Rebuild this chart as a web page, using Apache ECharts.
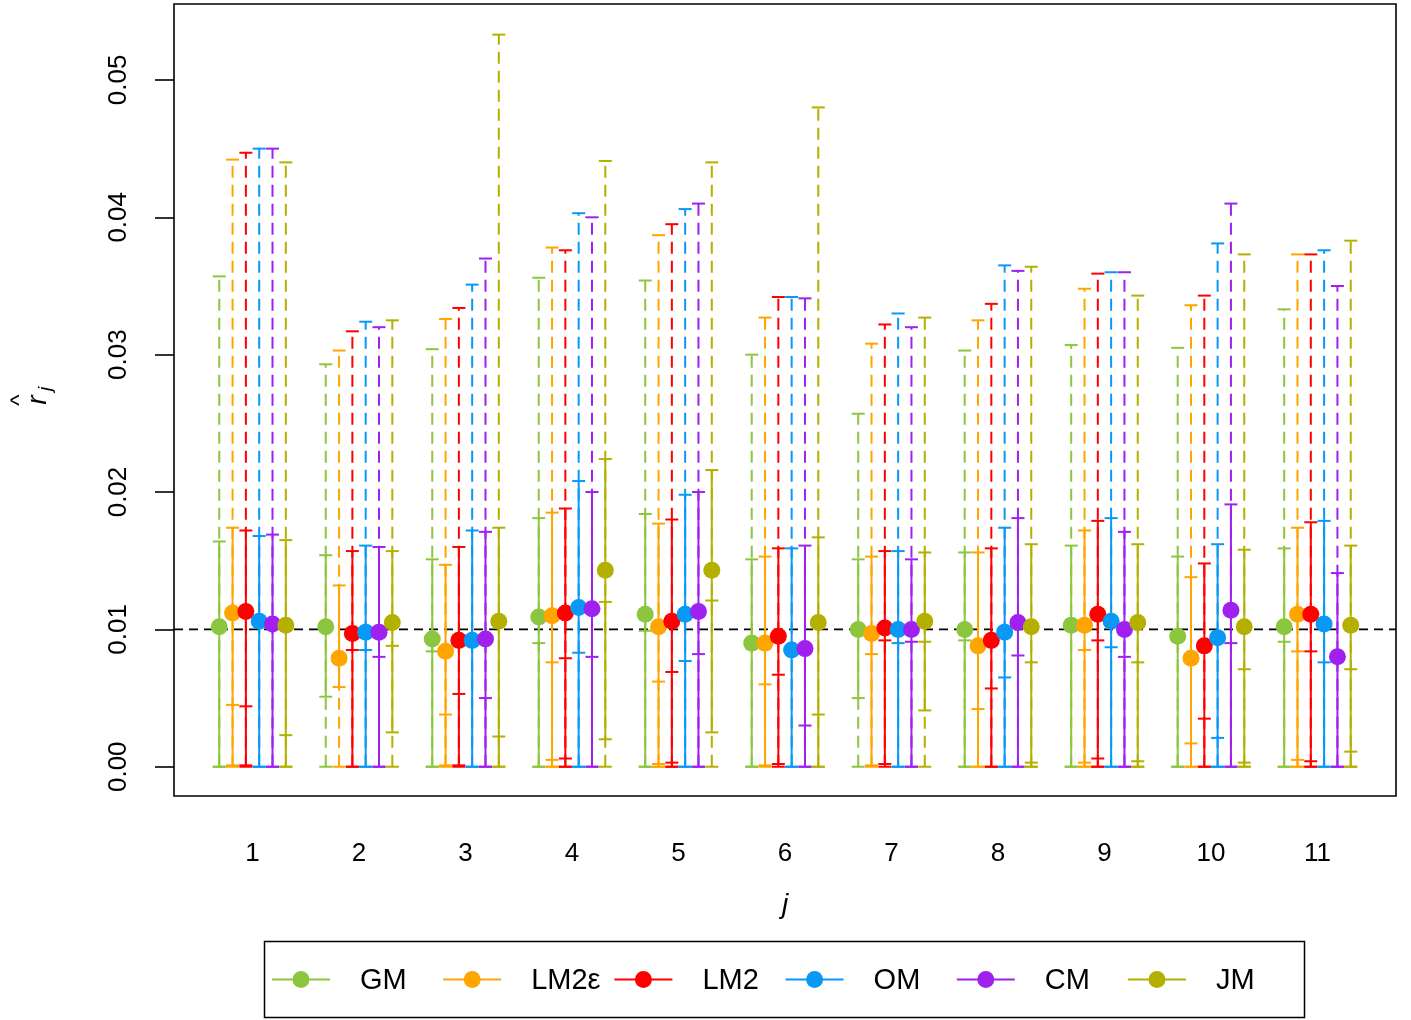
<!DOCTYPE html>
<html><head><meta charset="utf-8">
<script src="https://cdn.jsdelivr.net/npm/echarts@6/dist/echarts.min.js"></script>
<style>html,body{margin:0;padding:0;background:#fff}#c{width:1411px;height:1020px}</style>
</head><body><div id="c"></div>
<script>
// ---------- DATA ----------
const categories = [1,2,3,4,5,6,7,8,9,10,11];
const methods = ['GM','LM2ε','LM2','OM','CM','JM'];
const colors = ['#8CC63F','#FFA500','#FF0000','#0A98F5','#A020F0','#B4B000'];
const offsets = [-0.3125,-0.1875,-0.0625,0.0625,0.1875,0.3125];
const refValue = 0.01;
const yTicks = [0,0.01,0.02,0.03,0.04,0.05];

// point estimates
const estGM  = [0.0102,0.0102,0.0093,0.0109,0.0111,0.0090,0.0100,0.0100,0.0103,0.0095,0.0102];
const estLM2e= [0.0112,0.0079,0.0084,0.0110,0.0102,0.0090,0.0097,0.0088,0.0103,0.0079,0.0111];
const estLM2 = [0.0113,0.0097,0.0092,0.0112,0.0106,0.0095,0.0101,0.0092,0.0111,0.0088,0.0111];
const estOM  = [0.0106,0.0098,0.0092,0.0116,0.0111,0.0085,0.0100,0.0098,0.0106,0.0094,0.0104];
const estCM  = [0.0104,0.0098,0.0093,0.0115,0.0113,0.0086,0.0100,0.0105,0.0100,0.0114,0.0080];
const estJM  = [0.0103,0.0105,0.0106,0.0143,0.0143,0.0105,0.0106,0.0102,0.0105,0.0102,0.0103];

// solid interval lower ends
const solidLoGM  = [0,0.0051,0,0,0,0,0.0050,0,0,0,0];
const solidLoLM2e= [0.0001,0.0058,0.0001,0,0,0.0001,0.0001,0,0,0,0];
const solidLoLM2 = [0.0001,0,0.0001,0,0,0.0002,0.0002,0,0,0,0];
const solidLoOM  = [0,0,0,0,0,0,0,0,0,0,0];
const solidLoCM  = [0,0,0,0,0,0,0,0,0,0,0];
const solidLoJM  = [0,0.0025,0,0.0020,0.0025,0,0.0041,0,0,0,0];

// solid interval upper ends
const solidHiGM  = [0.0164,0.0154,0.0151,0.0181,0.0184,0.0151,0.0151,0.0156,0.0161,0.0153,0.0159];
const solidHiLM2e= [0.0174,0.0132,0.0147,0.0185,0.0177,0.0153,0.0153,0.0156,0.0172,0.0138,0.0174];
const solidHiLM2 = [0.0172,0.0157,0.0160,0.0188,0.0180,0.0159,0.0157,0.0159,0.0179,0.0148,0.0178];
const solidHiOM  = [0.0168,0.0161,0.0172,0.0208,0.0198,0.0159,0.0157,0.0174,0.0181,0.0162,0.0179];
const solidHiCM  = [0.0169,0.0160,0.0171,0.0200,0.0200,0.0161,0.0151,0.0181,0.0171,0.0191,0.0141];
const solidHiJM  = [0.0165,0.0157,0.0174,0.0224,0.0216,0.0167,0.0156,0.0162,0.0162,0.0158,0.0161];

// dashed interval upper ends (dashed runs from 0)
const dashHiGM  = [0.0357,0.0293,0.0304,0.0356,0.0354,0.0300,0.0257,0.0303,0.0307,0.0305,0.0333];
const dashHiLM2e= [0.0442,0.0303,0.0326,0.0378,0.0387,0.0327,0.0308,0.0325,0.0348,0.0336,0.0373];
const dashHiLM2 = [0.0447,0.0317,0.0334,0.0376,0.0395,0.0342,0.0322,0.0337,0.0359,0.0343,0.0373];
const dashHiOM  = [0.0450,0.0324,0.0351,0.0403,0.0406,0.0342,0.0330,0.0365,0.0360,0.0381,0.0376];
const dashHiCM  = [0.0450,0.0320,0.0370,0.0400,0.0410,0.0341,0.0320,0.0361,0.0360,0.0410,0.0350];
const dashHiJM  = [0.0440,0.0325,0.0533,0.0441,0.0440,0.0480,0.0327,0.0364,0.0343,0.0373,0.0383];

// extra lower tick marks (null = none)
const tickAGM  = [null,null,0.0084,0.0090,0.0099,0.0087,null,0.0092,null,null,0.0091];
const tickALM2e= [0.0045,null,0.0038,0.0076,0.0062,0.0060,0.0082,0.0042,0.0085,0.0017,0.0084];
const tickALM2 = [0.0044,0.0085,0.0053,0.0079,0.0069,0.0067,0.0092,0.0057,0.0092,0.0035,0.0084];
const tickAOM  = [null,0.0085,null,0.0083,0.0077,null,0.0090,0.0065,0.0087,0.0021,0.0076];
const tickACM  = [null,0.0080,0.0050,0.0080,0.0082,0.0030,0.0091,0.0081,0.0080,0.0090,null];
const tickAJM  = [0.0023,0.0088,0.0022,0.0120,0.0121,0.0038,0.0091,0.0076,0.0076,0.0071,0.0071];
const tickBGM  = [null,null,null,null,null,null,null,null,null,null,null];
const tickBLM2e= [null,null,null,0.0005,0.0002,null,null,null,0.0003,null,0.0005];
const tickBLM2 = [null,null,null,0.0006,0.0003,null,null,null,0.0006,null,0.0004];
const tickBOM  = [null,null,null,null,null,null,null,null,null,null,null];
const tickBCM  = [null,null,null,null,null,null,null,null,null,null,null];
const tickBJM  = [null,null,null,null,null,null,null,0.0003,0.0004,0.0003,0.0011];

const est     = [estGM,estLM2e,estLM2,estOM,estCM,estJM];
const solidLo = [solidLoGM,solidLoLM2e,solidLoLM2,solidLoOM,solidLoCM,solidLoJM];
const solidHi = [solidHiGM,solidHiLM2e,solidHiLM2,solidHiOM,solidHiCM,solidHiJM];
const dashHi  = [dashHiGM,dashHiLM2e,dashHiLM2,dashHiOM,dashHiCM,dashHiJM];
const tickA   = [tickAGM,tickALM2e,tickALM2,tickAOM,tickACM,tickAJM];
const tickB   = [tickBGM,tickBLM2e,tickBLM2,tickBOM,tickBCM,tickBJM];

// ---------- CHART ----------
const FONT = 'Liberation Sans, Arial, sans-serif';
const xMin = 0.2625, xMax = 11.7375, yMin = -0.00213, yMax = 0.05553;
const chart = echarts.init(document.getElementById('c'), null, {renderer:'canvas'});

function renderItem(params, api) {
  const x = api.value(0);
  const color = api.visual('color');
  const P = v => api.coord([x, v]);
  const hw = 6.5;
  const p0 = P(0), pdh = P(api.value(4)), psl = P(api.value(2)), psh = P(api.value(3)), pe = P(api.value(1));
  const kids = [];
  kids.push({type:'line', shape:{x1:p0[0],y1:p0[1],x2:pdh[0],y2:pdh[1]},
    style:{stroke:color,lineWidth:2,lineDash:[12,7]}});
  kids.push({type:'line', shape:{x1:psl[0],y1:psl[1],x2:psh[0],y2:psh[1]},
    style:{stroke:color,lineWidth:2}});
  const tv = [0, api.value(2), api.value(3), api.value(4), api.value(5), api.value(6)];
  tv.forEach(v => {
    if (v === null || isNaN(v)) return;
    const p = P(v);
    kids.push({type:'line', shape:{x1:p[0]-hw,y1:p[1],x2:p[0]+hw,y2:p[1]}, style:{stroke:color,lineWidth:2}});
  });
  kids.push({type:'circle', shape:{cx:pe[0],cy:pe[1],r:8.5}, style:{fill:color}});
  return {type:'group', children:kids};
}

const series = [{
  type:'line', name:'ref', data:[[xMin,refValue],[xMax,refValue]], symbol:'none', silent:true,
  lineStyle:{color:'#000',width:1.6,type:[9,6]}, z:1
}];
methods.forEach((m, mi) => {
  const data = categories.map((c, ci) => [
    c + offsets[mi], est[mi][ci], solidLo[mi][ci], solidHi[mi][ci], dashHi[mi][ci],
    tickA[mi][ci] === null ? NaN : tickA[mi][ci],
    tickB[mi][ci] === null ? NaN : tickB[mi][ci]
  ]);
  series.push({type:'custom', name:m, renderItem, data, itemStyle:{color:colors[mi]}, z:2+mi,
    encode:{x:0, y:[1,2,3,4]}, clip:false});
});

// legend drawn as graphic
const legendEls = [{type:'rect', shape:{x:264.5,y:941.5,width:1040,height:76},
  style:{fill:'#fff',stroke:'#000',lineWidth:1.5}}];
methods.forEach((m, i) => {
  const x0 = 272 + 171.2*i, yc = 979.5;
  legendEls.push({type:'line', shape:{x1:x0,y1:yc,x2:x0+58,y2:yc}, style:{stroke:colors[i],lineWidth:2}});
  legendEls.push({type:'circle', shape:{cx:x0+29,cy:yc,r:8.5}, style:{fill:colors[i]}});
  legendEls.push({type:'text', x:x0+88, y:yc+1, style:{text:m, fill:'#000', font:'29px '+FONT,
    textAlign:'left', textVerticalAlign:'middle'}});
});

const option = {
  animation:false,
  backgroundColor:'#fff',
  grid:{left:174, right:15, top:4, bottom:224, show:true, borderColor:'#000', borderWidth:1.6, backgroundColor:'transparent'},
  xAxis:{type:'value', min:xMin, max:xMax,
    axisLine:{show:false}, axisTick:{show:false}, splitLine:{show:false},
    axisLabel:{customValues:categories, margin:45, fontSize:26, fontFamily:FONT, color:'#000'},
    name:'j', nameLocation:'middle', nameGap:95,
    nameTextStyle:{fontSize:28, fontStyle:'italic', fontFamily:FONT, color:'#000'}},
  yAxis:{type:'value', min:yMin, max:yMax,
    axisLine:{show:false}, splitLine:{show:false},
    axisTick:{show:true, customValues:yTicks, length:19, lineStyle:{color:'#000',width:1.6}},
    axisLabel:{customValues:yTicks, rotate:90, margin:42, fontSize:26, fontFamily:FONT, color:'#000',
      formatter: v => v.toFixed(2)}},
  graphic:[
    {type:'group', x:38, y:400, rotation:Math.PI/2, children:[
      {type:'text', x:0, y:0, style:{text:'r', font:'italic 28px '+FONT, fill:'#000', textAlign:'center', textVerticalAlign:'middle'}},
      {type:'text', x:9, y:8, style:{text:'j', font:'italic 19px '+FONT, fill:'#000', textAlign:'left', textVerticalAlign:'middle'}},
      {type:'text', x:0, y:-18, style:{text:'^', font:'24px '+FONT, fill:'#000', textAlign:'center', textVerticalAlign:'middle'}}
    ]},
    ...legendEls
  ],
  series
};
chart.setOption(option);
</script>
</body></html>
